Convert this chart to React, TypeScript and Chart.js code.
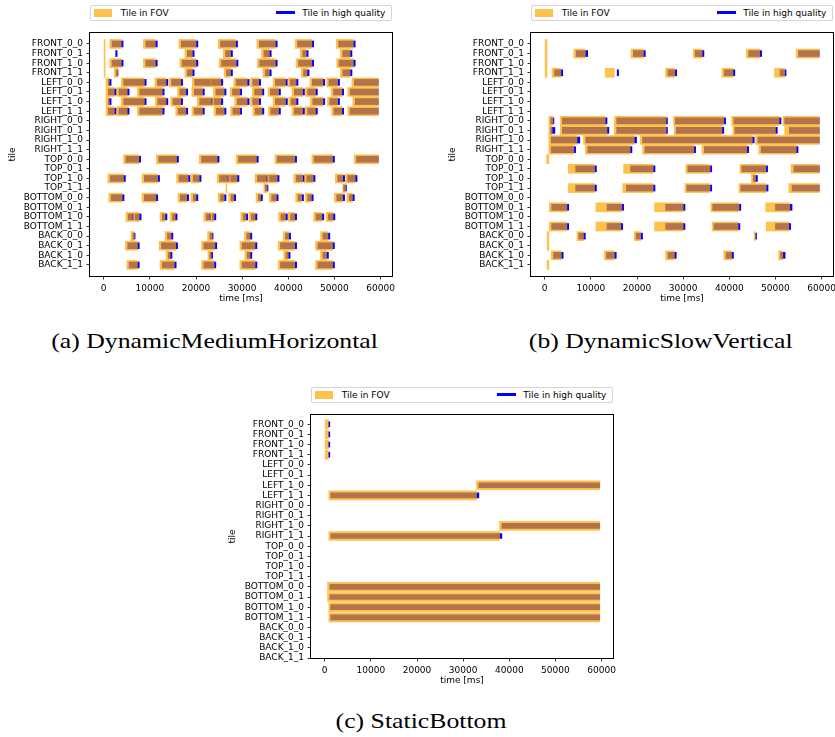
import React, { useEffect, useRef } from "react";
import { Chart, registerables } from "chart.js";

Chart.register(...registerables);
Chart.defaults.font.family = "'DejaVu Sans', sans-serif";
Chart.defaults.font.size = 9;
Chart.defaults.color = "#000";

type Row = [string, number[][]];

const TILES = [
  "FRONT_0_0", "FRONT_0_1", "FRONT_1_0", "FRONT_1_1",
  "LEFT_0_0", "LEFT_0_1", "LEFT_1_0", "LEFT_1_1",
  "RIGHT_0_0", "RIGHT_0_1", "RIGHT_1_0", "RIGHT_1_1",
  "TOP_0_0", "TOP_0_1", "TOP_1_0", "TOP_1_1",
  "BOTTOM_0_0", "BOTTOM_0_1", "BOTTOM_1_0", "BOTTOM_1_1",
  "BACK_0_0", "BACK_0_1", "BACK_1_0", "BACK_1_1",
];
const TIME_TICKS = [0, 10000, 20000, 30000, 40000, 50000, 60000];
const LEGEND_FOV = "Tile in FOV";
const LEGEND_HQ = "Tile in high quality";

// (a) DynamicMediumHorizontal — time in ms
const A_FOV: Row[] = [
  ["FRONT_0_0", [[0, 300], [1300, 3800], [8600, 11200], [16300, 20000], [24800, 28600], [33200, 37200], [41500, 45100], [50400, 54100]]],
  ["FRONT_0_1", [[0, 300], [17600, 19200], [25900, 27500], [34200, 35900], [42600, 43900], [51300, 53400]]],
  ["FRONT_1_0", [[0, 300], [1300, 3800], [8600, 11200], [16500, 20000], [25000, 28700], [33300, 37200], [41700, 45100], [50500, 54100]]],
  ["FRONT_1_1", [[0, 300], [2300, 3000], [17600, 19200], [26100, 27500], [34500, 35900], [42800, 44100], [51300, 53400]]],
  ["LEFT_0_0", [[500, 1200], [3800, 8800], [11100, 13500], [14200, 16700], [19200, 23200], [23200, 25400], [28200, 31100], [31800, 33600], [36700, 39400], [39900, 41700], [44700, 47500], [48300, 50700], [53800, 59500]]],
  ["LEFT_0_1", [[500, 2300], [2800, 5100], [7300, 12700], [16000, 17800], [19100, 21400], [23800, 26100], [27400, 29500], [32200, 34300], [35600, 37900], [40800, 43100], [43700, 45900], [49300, 51600], [52900, 59500]]],
  ["LEFT_1_0", [[500, 1200], [3800, 8800], [11200, 13500], [14500, 16700], [20300, 23200], [23400, 25400], [28400, 31100], [31800, 33600], [36700, 39400], [40100, 41700], [44800, 47500], [48500, 50700], [54000, 59500]]],
  ["LEFT_1_1", [[500, 2300], [2800, 5100], [7300, 12700], [15600, 17800], [19100, 21400], [23900, 26100], [27500, 29500], [32300, 34300], [35700, 37900], [40800, 43100], [43700, 45900], [49400, 51600], [52900, 59500]]],
  ["TOP_0_0", [[4300, 7600], [11400, 15800], [20700, 24600], [28700, 33100], [37100, 41400], [45100, 49600], [54300, 59500]]],
  ["TOP_1_0", [[900, 4300], [8300, 11700], [15800, 18300], [18900, 20700], [24600, 26800], [27000, 28900], [32800, 35200], [35400, 37600], [41200, 43100], [43500, 45400], [50200, 51800], [52400, 54500]]],
  ["TOP_1_1", [[26500, 26700], [34700, 35400], [51800, 52400]]],
  ["BOTTOM_0_0", [[1100, 4000], [8300, 11300], [16100, 18000], [18900, 20000], [24800, 26100], [27100, 28200], [33000, 34000], [35900, 37400], [41600, 42900], [43700, 45000], [50000, 51800], [52700, 53900]]],
  ["BOTTOM_1_0", [[4800, 6100], [6300, 7700], [12200, 13300], [14400, 15500], [21700, 22800], [23000, 23900], [29700, 30800], [31500, 32800], [37900, 39400], [40000, 41400], [45500, 47300], [48200, 49700]]],
  ["BACK_0_0", [[5900, 6600], [13300, 14600], [22500, 23500], [30500, 31700], [38900, 40100], [47000, 48600]]],
  ["BACK_0_1", [[4700, 7300], [12000, 15600], [21200, 24100], [29500, 32800], [37800, 41400], [45900, 49600]]],
  ["BACK_1_0", [[13500, 14400], [22600, 23300], [30600, 31700], [39000, 40000], [47000, 48300]]],
  ["BACK_1_1", [[5000, 7300], [12200, 15300], [21200, 23900], [29500, 32800], [37800, 41400], [45900, 49600]]],
];
const A_HQ: Row[] = [
  ["FRONT_0_0", [[1800, 4200], [9100, 11600], [16800, 20400], [25300, 29000], [33700, 37600], [42000, 45500], [50900, 54500]]],
  ["FRONT_0_1", [[2600, 2900], [18100, 19600], [26400, 27900], [34700, 36300], [43100, 44300], [51800, 53800]]],
  ["FRONT_1_0", [[1800, 4200], [9100, 11600], [17000, 20400], [25500, 29100], [33800, 37600], [42200, 45500], [51000, 54500]]],
  ["FRONT_1_1", [[2700, 3100], [18100, 19600], [26600, 27900], [35000, 36300], [43300, 44500], [51800, 53800]]],
  ["LEFT_0_0", [[1000, 1600], [4300, 9200], [11600, 13900], [14700, 17100], [19700, 23600], [23700, 25800], [28700, 31500], [32300, 34000], [37200, 39800], [40400, 42100], [45200, 47900], [48800, 51100], [54300, 59500]]],
  ["LEFT_0_1", [[1000, 2700], [3300, 5500], [7800, 13100], [16500, 18200], [19600, 21800], [24300, 26500], [27900, 29900], [32700, 34700], [36100, 38300], [41300, 43500], [44200, 46300], [49800, 52000], [53400, 59500]]],
  ["LEFT_1_0", [[1000, 1600], [4300, 9200], [11700, 13900], [15000, 17100], [20800, 23600], [23900, 25800], [28900, 31500], [32300, 34000], [37200, 39800], [40600, 42100], [45300, 47900], [49000, 51100], [54500, 59500]]],
  ["LEFT_1_1", [[1000, 2700], [3300, 5500], [7800, 13100], [16100, 18200], [19600, 21800], [24400, 26500], [28000, 29900], [32800, 34700], [36200, 38300], [41300, 43500], [44200, 46300], [49900, 52000], [53400, 59500]]],
  ["TOP_0_0", [[4800, 8000], [11900, 16200], [21200, 25000], [29200, 33500], [37600, 41800], [45600, 50000], [54800, 59500]]],
  ["TOP_1_0", [[1400, 4700], [8800, 12100], [16300, 18700], [19400, 21100], [25100, 27200], [27500, 29300], [33300, 35600], [35900, 38000], [41700, 43500], [44000, 45800], [50700, 52200], [52900, 54900]]],
  ["TOP_1_1", [[35000, 35600], [52000, 52600]]],
  ["BOTTOM_0_0", [[1600, 4400], [8800, 11700], [16600, 18400], [19400, 20400], [25300, 26500], [27600, 28600], [33500, 34400], [36400, 37800], [42100, 43300], [44200, 45400], [50500, 52200], [53200, 54300]]],
  ["BOTTOM_1_0", [[5300, 6500], [6800, 8100], [12700, 13700], [14900, 15900], [22200, 23200], [23500, 24300], [30200, 31200], [32000, 33200], [38400, 39800], [40500, 41800], [46000, 47700], [48700, 50100]]],
  ["BACK_0_0", [[6300, 6800], [13800, 15000], [23000, 23700], [31000, 32100], [39400, 40500], [47500, 49000]]],
  ["BACK_0_1", [[5200, 7700], [12500, 16000], [21700, 24500], [30000, 33200], [38300, 41800], [46400, 50000]]],
  ["BACK_1_0", [[14000, 14800], [23000, 23600], [31100, 32100], [39500, 40400], [47500, 48700]]],
  ["BACK_1_1", [[5500, 7700], [12700, 15700], [21700, 24300], [30000, 33200], [38300, 41800], [46400, 50000]]],
];

// (b) DynamicSlowVertical
const B_FOV: Row[] = [
  ["FRONT_0_0", [[0, 500]]],
  ["FRONT_0_1", [[0, 500], [6300, 8800], [18700, 21400], [32200, 34100], [43700, 46600], [54500, 59500]]],
  ["FRONT_1_0", [[0, 500]]],
  ["FRONT_1_1", [[0, 500], [1600, 3500], [13100, 15100], [26200, 28200], [38400, 40800], [49800, 52000]]],
  ["RIGHT_0_0", [[900, 1800], [3400, 13100], [15100, 26300], [27900, 38800], [40500, 50800], [51600, 59500]]],
  ["RIGHT_0_1", [[900, 1600], [3400, 13500], [15100, 26300], [28100, 38400], [40800, 50000], [52000, 59500]]],
  ["RIGHT_1_0", [[900, 7000], [8400, 19400], [20700, 45000], [45700, 59500]]],
  ["RIGHT_1_1", [[900, 6300], [8800, 18500], [21200, 32300], [34100, 43800], [46400, 54500]]],
  ["TOP_0_0", [[400, 900]]],
  ["TOP_0_1", [[5100, 10800], [17100, 23500], [30600, 35800], [42300, 47900], [53400, 59500]]],
  ["TOP_1_0", [[44800, 45700]]],
  ["TOP_1_1", [[5100, 10800], [16900, 23500], [30400, 35800], [42100, 48000], [52900, 59500]]],
  ["BOTTOM_0_1", [[1000, 4800], [11100, 16700], [23800, 30000], [36000, 42100], [47900, 53100]]],
  ["BOTTOM_1_1", [[1000, 4800], [11100, 16500], [23800, 30000], [36300, 41900], [48000, 52900]]],
  ["BACK_0_0", [[500, 900], [7000, 8400], [19400, 20800], [45400, 45600]]],
  ["BACK_0_1", [[500, 900]]],
  ["BACK_1_0", [[1400, 3600], [12900, 15100], [26200, 28100], [38800, 40500], [50700, 51600]]],
  ["BACK_1_1", [[500, 900]]],
];
const B_HQ: Row[] = [
  ["FRONT_0_1", [[6800, 9300], [19200, 21800], [32600, 34500], [44200, 47000], [55000, 59500]]],
  ["FRONT_1_1", [[2100, 3900], [15700, 16000], [26700, 28600], [38900, 41200], [51000, 52300]]],
  ["RIGHT_0_0", [[1300, 2000], [3800, 13500], [15600, 26600], [28300, 39200], [41000, 51200], [52000, 59500]]],
  ["RIGHT_0_1", [[1300, 2200], [3800, 13900], [15600, 26600], [28500, 38800], [41200, 50400], [53000, 59500]]],
  ["RIGHT_1_0", [[1400, 7600], [8900, 19900], [21200, 45400], [46200, 59500]]],
  ["RIGHT_1_1", [[1400, 6700], [9300, 18900], [21700, 32700], [34600, 44200], [46900, 54900]]],
  ["TOP_0_1", [[6700, 11200], [18600, 23900], [31000, 36200], [42700, 48300], [54000, 59500]]],
  ["TOP_1_0", [[45200, 46100]]],
  ["TOP_1_1", [[6700, 11200], [17700, 23900], [30800, 36200], [42500, 48400], [53600, 59500]]],
  ["BOTTOM_0_1", [[1500, 5200], [13500, 17100], [26200, 30400], [36400, 42500], [50000, 53600]]],
  ["BOTTOM_1_1", [[1500, 5200], [13500, 16900], [26200, 30400], [36700, 42300], [50000, 53300]]],
  ["BACK_0_0", [[7400, 8800], [19800, 21200], [45700, 45900]]],
  ["BACK_1_0", [[1900, 4000], [13400, 15500], [26700, 28500], [39300, 40900], [51100, 52100]]],
];

// (c) StaticBottom
const C_FOV: Row[] = [
  ["FRONT_0_0", [[100, 800]]],
  ["FRONT_0_1", [[100, 800]]],
  ["FRONT_1_0", [[100, 800]]],
  ["FRONT_1_1", [[100, 800]]],
  ["LEFT_1_0", [[32900, 59600]]],
  ["LEFT_1_1", [[900, 32900]]],
  ["RIGHT_1_0", [[37900, 59600]]],
  ["RIGHT_1_1", [[900, 37900]]],
  ["BOTTOM_0_0", [[600, 59600]]],
  ["BOTTOM_0_1", [[600, 59600]]],
  ["BOTTOM_1_0", [[900, 59600]]],
  ["BOTTOM_1_1", [[900, 59600]]],
];
const C_HQ: Row[] = [
  ["FRONT_0_0", [[800, 1100]]],
  ["FRONT_0_1", [[800, 1100]]],
  ["FRONT_1_0", [[800, 1100]]],
  ["FRONT_1_1", [[800, 1100]]],
  ["LEFT_1_0", [[33400, 59600]]],
  ["LEFT_1_1", [[1300, 33400]]],
  ["RIGHT_1_0", [[38400, 59600]]],
  ["RIGHT_1_1", [[1300, 38400]]],
  ["BOTTOM_0_0", [[1100, 59600]]],
  ["BOTTOM_0_1", [[1100, 59600]]],
  ["BOTTOM_1_0", [[1300, 59600]]],
  ["BOTTOM_1_1", [[1300, 59600]]],
];

const ORANGE = "rgba(255,165,0,0.7)";
const BLUE = "#0000ff";

function toBars(rows: Row[]) {
  const out: { x: number[]; y: number }[] = [];
  for (const [tile, segs] of rows) {
    const y = TILES.indexOf(tile);
    for (const s of segs) out.push({ x: [s[0], s[1]], y });
  }
  return out;
}

const spinePlugin = {
  id: "spines",
  afterDraw(chart: any) {
    const { ctx, chartArea } = chart;
    const l = Math.round(chartArea.left) - 0.5;
    const t = Math.round(chartArea.top) - 0.5;
    const r = Math.round(chartArea.right) + 0.5;
    const b = Math.round(chartArea.bottom) + 0.5;
    ctx.save();
    ctx.strokeStyle = "#000";
    ctx.lineWidth = 1;
    ctx.strokeRect(l, t, r - l, b - t);
    ctx.restore();
  },
};

type PanelProps = {
  fov: Row[];
  hq: Row[];
  left: number;
  top: number;
  width: number;
  height: number;
  yWidth: number;
  padRight: number;
  yMin: number;
  yMax: number;
  fovThick: number;
  hqThick: number;
};

function Panel(p: PanelProps) {
  const ref = useRef<HTMLCanvasElement | null>(null);
  useEffect(() => {
    if (!ref.current) return;
    const tickGrid = {
      display: true,
      drawOnChartArea: false,
      drawTicks: true,
      tickLength: 3.5,
      color: "#000",
      lineWidth: 0.8,
      offset: false,
    };
    const chart = new Chart(ref.current, {
      type: "bar",
      data: {
        datasets: [
          {
            label: LEGEND_FOV,
            data: toBars(p.fov) as any,
            backgroundColor: ORANGE,
            borderWidth: 0,
            barThickness: p.fovThick,
            grouped: false,
          } as any,
          {
            label: LEGEND_HQ,
            data: toBars(p.hq) as any,
            backgroundColor: BLUE,
            borderWidth: 0,
            barThickness: p.hqThick,
            grouped: false,
          } as any,
        ],
      },
      options: {
        indexAxis: "y",
        animation: false,
        responsive: false,
        maintainAspectRatio: false,
        devicePixelRatio: 1,
        layout: { padding: { top: 2, right: p.padRight, left: 0, bottom: 0 } },
        plugins: { legend: { display: false }, tooltip: { enabled: false } },
        scales: {
          x: {
            type: "linear",
            min: -2975,
            max: 62475,
            offset: false,
            afterBuildTicks: (s: any) => {
              s.ticks = TIME_TICKS.map((v) => ({ value: v }));
            },
            afterFit: (s: any) => {
              s.height = 34;
              s.paddingLeft = 0;
              s.paddingRight = 0;
            },
            ticks: {
              autoSkip: false,
              maxRotation: 0,
              padding: 3.5,
              color: "#000",
              callback: (v: any) => String(v),
            },
            grid: tickGrid,
            border: { display: false },
            title: {
              display: true,
              text: "time [ms]",
              color: "#000",
              padding: { top: 0, bottom: 6 },
            },
          },
          y: {
            type: "linear",
            reverse: true,
            min: p.yMin,
            max: p.yMax,
            offset: false,
            afterBuildTicks: (s: any) => {
              s.ticks = TILES.map((_, i) => ({ value: i }));
            },
            afterFit: (s: any) => {
              s.width = p.yWidth;
            },
            ticks: {
              autoSkip: false,
              padding: 3.5,
              color: "#000",
              callback: (v: any) => TILES[v] ?? "",
            },
            grid: tickGrid,
            border: { display: false },
            title: {
              display: true,
              text: "tile",
              color: "#000",
              padding: { top: 7, bottom: 0 },
            },
          },
        } as any,
      },
      plugins: [spinePlugin],
    });
    return () => chart.destroy();
  }, []);
  return (
    <canvas
      ref={ref}
      width={p.width}
      height={p.height}
      style={{ position: "absolute", left: p.left, top: p.top, width: p.width, height: p.height }}
    />
  );
}

function Legend({ left, top }: { left: number; top: number }) {
  const font = "'DejaVu Sans', sans-serif";
  return (
    <div
      style={{
        position: "absolute",
        left,
        top,
        width: 302,
        height: 16,
        boxSizing: "border-box",
        border: "1px solid #d4d4d4",
        borderRadius: 2,
        background: "#fff",
        fontFamily: font,
        fontSize: 9,
        color: "#000",
      }}
    >
      <div style={{ position: "absolute", left: 3, top: 3.6, width: 18, height: 7.4, background: ORANGE }} />
      <span style={{ position: "absolute", left: 29.7, top: 0, lineHeight: "14px", whiteSpace: "nowrap" }}>{LEGEND_FOV}</span>
      <div style={{ position: "absolute", left: 185, top: 5.3, width: 19, height: 3.4, background: BLUE }} />
      <span style={{ position: "absolute", left: 211.3, top: 0, lineHeight: "14px", whiteSpace: "nowrap" }}>{LEGEND_HQ}</span>
    </div>
  );
}

function Caption({ text, center, top }: { text: string; center: number; top: number }) {
  return (
    <div
      style={{
        position: "absolute",
        left: center - 250,
        top,
        width: 500,
        textAlign: "center",
        fontFamily: "'Liberation Serif', serif",
        fontSize: 22,
        lineHeight: "22px",
        color: "#000",
        whiteSpace: "nowrap",
      }}
    >
      <span style={{ display: "inline-block", transform: "scaleX(1.17)", transformOrigin: "center" }}>{text}</span>
    </div>
  );
}

export default function App() {
  return (
    <div style={{ position: "absolute", left: 0, top: 0, width: 835, height: 737, background: "#fff", overflow: "hidden" }}>
      <Legend left={90} top={4.7} />
      <Panel fov={A_FOV} hq={A_HQ} left={0} top={24} width={400} height={286} yWidth={90} padRight={8} yMin={-1.15} yMax={24.15} fovThick={9} hqThick={6} />
      <Caption text="(a) DynamicMediumHorizontal" center={214.5} top={330} />

      <Legend left={531} top={4.7} />
      <Panel fov={B_FOV} hq={B_HQ} left={440} top={24} width={395} height={286} yWidth={91} padRight={2} yMin={-1.15} yMax={24.15} fovThick={9} hqThick={6} />
      <Caption text="(b) DynamicSlowVertical" center={661} top={330} />

      <Legend left={311} top={386.7} />
      <Panel fov={C_FOV} hq={C_HQ} left={220} top={406} width={400} height={286} yWidth={91} padRight={7} yMin={-0.92} yMax={23} fovThick={9} hqThick={5} />
      <Caption text="(c) StaticBottom" center={421.5} top={709.6} />
    </div>
  );
}
